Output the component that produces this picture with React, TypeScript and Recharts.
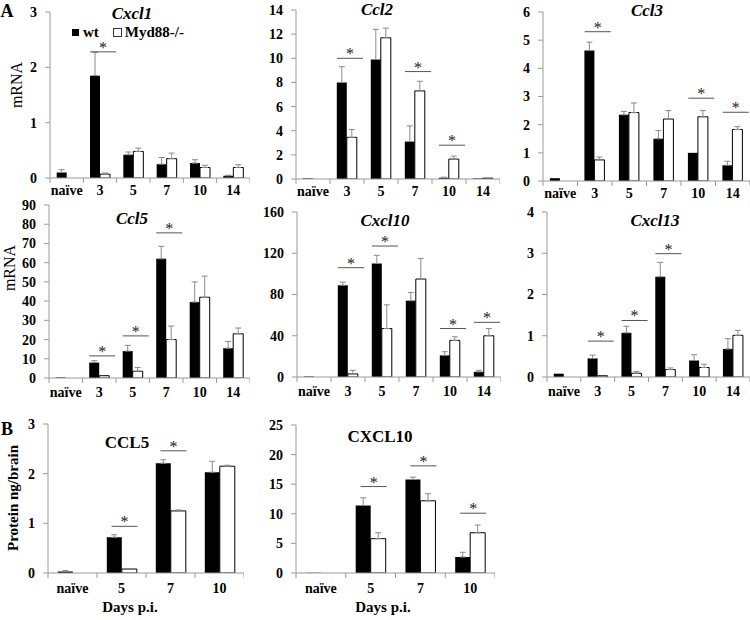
import React from 'react';
import { ComposedChart, Bar, ErrorBar, Scatter, XAxis, YAxis, Legend } from 'recharts';

// categories
const days6 = ['naïve', '3', '5', '7', '10', '14'];
const days4 = ['naïve', '5', '7', '10'];
const seriesNames = ['wt', 'Myd88-/-'];

// A: mRNA, values (err = upper error only)
const cxcl1Wt = [0.1, 1.85, 0.42, 0.25, 0.27, 0.04];
const cxcl1WtErr = [0.05, 0.42, 0.05, 0.12, 0.06, 0.01];
const cxcl1Ko = [0, 0.07, 0.48, 0.35, 0.19, 0.19];
const cxcl1KoErr = [0, 0.02, 0.06, 0.1, 0.04, 0.05];
const cxcl1Sig = [null, 2.28, null, null, null, null];

const ccl2Wt = [0.05, 8.0, 9.9, 3.1, 0.1, 0.05];
const ccl2WtErr = [0, 1.3, 2.5, 1.3, 0.05, 0];
const ccl2Ko = [0, 3.45, 11.7, 7.3, 1.65, 0.07];
const ccl2KoErr = [0, 0.65, 0.8, 0.8, 0.25, 0];
const ccl2Sig = [null, 10.0, null, 8.9, 2.8, null];

const ccl3Wt = [0.1, 4.63, 2.35, 1.5, 1.0, 0.56];
const ccl3WtErr = [0, 0.3, 0.12, 0.29, 0, 0.14];
const ccl3Ko = [0, 0.75, 2.43, 2.2, 2.28, 1.83];
const ccl3KoErr = [0, 0.1, 0.34, 0.3, 0.22, 0.1];
const ccl3Sig = [null, 5.3, null, null, 2.94, 2.44];

const ccl5Wt = [0.3, 8, 14, 62, 39.5, 15.5];
const ccl5WtErr = [0, 1, 3, 6.5, 10.5, 3.5];
const ccl5Ko = [0, 1.2, 3.5, 20, 42, 23];
const ccl5KoErr = [0, 0, 2, 7, 11, 3];
const ccl5Sig = [null, 11.5, 21.9, 75.5, null, null];

const cxcl10Wt = [0.5, 89, 110, 74, 21, 5];
const cxcl10WtErr = [0, 3, 8, 8, 3.5, 1.5];
const cxcl10Ko = [0, 3, 47, 95, 35.5, 40];
const cxcl10KoErr = [0, 3.5, 23, 20, 3.5, 7];
const cxcl10Sig = [null, 106, 127, null, 47, 53];

const cxcl13Wt = [0.08, 0.45, 1.07, 2.43, 0.4, 0.68];
const cxcl13WtErr = [0, 0.08, 0.16, 0.35, 0.14, 0.25];
const cxcl13Ko = [0, 0.03, 0.09, 0.18, 0.23, 1.01];
const cxcl13KoErr = [0, 0, 0.04, 0.04, 0.08, 0.12];
const cxcl13Sig = [null, 0.87, 1.37, 2.99, null, null];

// B: protein ng/brain
const protCcl5Wt = [0.03, 0.72, 2.21, 2.03];
const protCcl5WtErr = [0.02, 0.05, 0.07, 0.22];
const protCcl5Ko = [0, 0.08, 1.25, 2.15];
const protCcl5KoErr = [0, 0, 0.02, 0.02];
const protCcl5Sig = [null, 0.94, 2.46, null];

const protCxcl10Wt = [0.05, 11.4, 15.8, 2.7];
const protCxcl10WtErr = [0, 1.3, 0.4, 0.8];
const protCxcl10Ko = [0, 5.8, 12.2, 6.8];
const protCxcl10KoErr = [0, 1, 1.2, 1.3];
const protCxcl10Sig = [null, 14.6, 18.1, 10.1];

const FONT = "'Liberation Serif', 'DejaVu Serif', serif";
const AXIS = '#9a9a9a';

function build(days, wt, wtErr, ko, koErr, sig) {
  return days.map((d, i) => ({
    day: d,
    wt: wt[i],
    ko: ko[i],
    wtErr: wtErr[i] ? [0, wtErr[i]] : null,
    koErr: koErr[i] ? [0, koErr[i]] : null,
    sig: sig[i],
  }));
}

const SigMark = (props: any) => {
  const { cx, cy } = props;
  if (cx == null || cy == null || isNaN(cy)) return null;
  return (
    <g>
      <line x1={cx - 10} x2={cx + 16} y1={cy} y2={cy} stroke="#555" strokeWidth={1} />
      <text x={cx + 3} y={cy + 1} textAnchor="middle" style={{ fontFamily: FONT }} fontSize={16} fill="#222">*</text>
    </g>
  );
};

const DayTick = (props: any) => {
  const { x, y, payload, index, band, dy } = props;
  return (
    <g>
      {index === 0 && <line x1={x - band / 2} x2={x - band / 2} y1={y} y2={y + 5} stroke={AXIS} />}
      <line x1={x + band / 2} x2={x + band / 2} y1={y} y2={y + 5} stroke={AXIS} />
      <text x={x} y={y + dy} textAnchor="middle" style={{ fontFamily: FONT }} fontSize={14} fontWeight="bold" fill="#000">
        {payload.value}
      </text>
    </g>
  );
};

const LegendBox = () => (
  <div style={{ display: 'flex', alignItems: 'center', fontFamily: FONT, fontSize: 15, fontWeight: 'bold', whiteSpace: 'nowrap' }}>
    <span style={{ width: 7, height: 7, background: '#000', display: 'inline-block', marginRight: 4 }} />
    <span style={{ marginRight: 14 }}>{seriesNames[0]}</span>
    <span style={{ width: 7, height: 7, background: '#fff', border: '1px solid #333', display: 'inline-block', marginRight: 3 }} />
    <span>{seriesNames[1]}</span>
  </div>
);

function Panel({ data, axisX, right, top, bottom, max, ticks, labelDy, legend }: any) {
  const yW = 40;
  const mTop = 10;
  const xH = 30;
  const width = yW + right - axisX;
  const height = mTop + bottom - top + xH;
  const band = (right - axisX) / data.length;
  return (
    <div style={{ position: 'absolute', left: axisX - yW, top: top - mTop }}>
      <ComposedChart
        width={width}
        height={height}
        data={data}
        margin={{ top: mTop, right: 0, bottom: 0, left: 0 }}
        barCategoryGap="20%"
        barGap={0}
        style={{ fontFamily: FONT }}
      >
        <XAxis
          dataKey="day"
          height={xH}
          axisLine={{ stroke: AXIS }}
          tickLine={false}
          tickSize={0}
          tickMargin={0}
          interval={0}
          tick={(p: any) => <DayTick {...p} band={band} dy={labelDy} />}
        />
        <YAxis
          width={yW}
          domain={[0, max]}
          ticks={ticks}
          interval={0}
          allowDataOverflow
          axisLine={{ stroke: AXIS }}
          tickLine={{ stroke: AXIS }}
          tickSize={5}
          tickMargin={8}
          tick={{ fill: '#000', fontSize: 14, fontWeight: 'bold', style: { fontFamily: FONT } }}
        />
        {legend && (
          <Legend
            layout="horizontal"
            verticalAlign="middle"
            align="center"
            content={() => <LegendBox />}
            wrapperStyle={{ left: legend[0], top: legend[1], width: 140 }}
          />
        )}
        <Bar dataKey="wt" name={seriesNames[0]} fill="#000" isAnimationActive={false}>
          <ErrorBar dataKey="wtErr" width={3} stroke="#8a8a8a" strokeWidth={1} />
        </Bar>
        <Bar dataKey="ko" name={seriesNames[1]} fill="#fff" stroke="#000" strokeWidth={1} isAnimationActive={false}>
          <ErrorBar dataKey="koErr" width={3} stroke="#8a8a8a" strokeWidth={1} />
        </Bar>
        <Scatter dataKey="sig" shape={SigMark} isAnimationActive={false} />
      </ComposedChart>
    </div>
  );
}

const Txt = ({ x, y, children, size = 17, italic = false, bold = true, rotate = false }: any) => (
  <div
    style={{
      position: 'absolute',
      left: x,
      top: y,
      transform: `translate(-50%, -50%)${rotate ? ' rotate(-90deg)' : ''}`,
      fontFamily: FONT,
      fontSize: size,
      fontStyle: italic ? 'italic' : 'normal',
      fontWeight: bold ? 'bold' : 'normal',
      lineHeight: 1,
      whiteSpace: 'nowrap',
      color: '#000',
    }}
  >
    {children}
  </div>
);

export default function App() {
  return (
    <div style={{ position: 'absolute', left: 0, top: 0, width: 750, height: 620, background: '#fff', overflow: 'hidden', fontFamily: FONT }}>
      <Panel data={build(days6, cxcl1Wt, cxcl1WtErr, cxcl1Ko, cxcl1KoErr, cxcl1Sig)}
        axisX={50} right={250} top={12} bottom={178} max={3} ticks={[0, 1, 2, 3]} labelDy={17} legend={[62, 22]} />
      <Panel data={build(days6, ccl2Wt, ccl2WtErr, ccl2Ko, ccl2KoErr, ccl2Sig)}
        axisX={296} right={500} top={10} bottom={179} max={14} ticks={[0, 2, 4, 6, 8, 10, 12, 14]} labelDy={17} />
      <Panel data={build(days6, ccl3Wt, ccl3WtErr, ccl3Ko, ccl3KoErr, ccl3Sig)}
        axisX={543} right={750} top={12} bottom={181} max={6} ticks={[0, 1, 2, 3, 4, 5, 6]} labelDy={17} />
      <Panel data={build(days6, ccl5Wt, ccl5WtErr, ccl5Ko, ccl5KoErr, ccl5Sig)}
        axisX={49} right={250} top={205} bottom={378} max={90} ticks={[0, 10, 20, 30, 40, 50, 60, 70, 80, 90]} labelDy={19} />
      <Panel data={build(days6, cxcl10Wt, cxcl10WtErr, cxcl10Ko, cxcl10KoErr, cxcl10Sig)}
        axisX={297} right={501} top={212} bottom={377} max={160} ticks={[0, 40, 80, 120, 160]} labelDy={19} />
      <Panel data={build(days6, cxcl13Wt, cxcl13WtErr, cxcl13Ko, cxcl13KoErr, cxcl13Sig)}
        axisX={547} right={750} top={212} bottom={377} max={4} ticks={[0, 1, 2, 3, 4]} labelDy={19} />
      <Panel data={build(days4, protCcl5Wt, protCcl5WtErr, protCcl5Ko, protCcl5KoErr, protCcl5Sig)}
        axisX={48} right={244} top={424} bottom={573} max={3} ticks={[0, 1, 2, 3]} labelDy={20} />
      <Panel data={build(days4, protCxcl10Wt, protCxcl10WtErr, protCxcl10Ko, protCxcl10KoErr, protCxcl10Sig)}
        axisX={296} right={495} top={425} bottom={573} max={25} ticks={[0, 5, 10, 15, 20, 25]} labelDy={20} />

      <Txt x={7} y={11} size={18}>A</Txt>
      <Txt x={7} y={429} size={18}>B</Txt>

      <Txt x={132} y={13} italic>Cxcl1</Txt>
      <Txt x={377} y={9} italic>Ccl2</Txt>
      <Txt x={647} y={10} italic>Ccl3</Txt>
      <Txt x={132} y={218} italic>Ccl5</Txt>
      <Txt x={385} y={220} italic>Cxcl10</Txt>
      <Txt x={655} y={220} italic>Cxcl13</Txt>
      <Txt x={127} y={442}>CCL5</Txt>
      <Txt x={380} y={436}>CXCL10</Txt>

      <Txt x={17} y={85} size={16} bold={false} rotate>mRNA</Txt>
      <Txt x={10} y={268} size={16} bold={false} rotate>mRNA</Txt>
      <Txt x={13} y={498} size={15} rotate>Protein ng/brain</Txt>

      <Txt x={130} y={607} size={15}>Days p.i.</Txt>
      <Txt x={383} y={607} size={15}>Days p.i.</Txt>
    </div>
  );
}
